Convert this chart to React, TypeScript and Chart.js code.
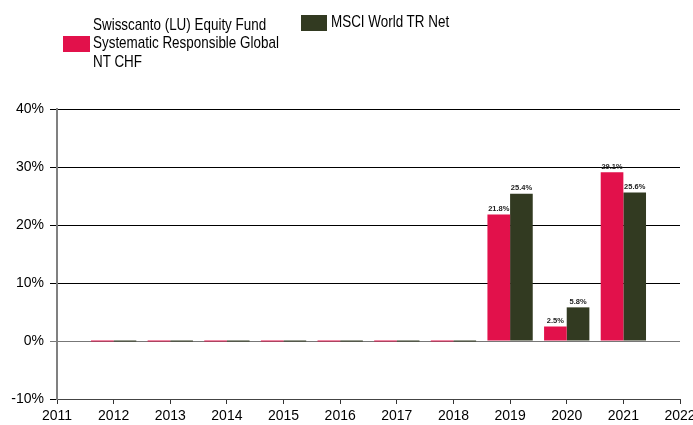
import React, { useEffect, useRef } from "react";
import { Chart, registerables } from "chart.js";

Chart.register(...registerables);

const years = ["2011", "2012", "2013", "2014", "2015", "2016", "2017", "2018", "2019", "2020", "2021", "2022"];
const fundValues = [null, 0, 0, 0, 0, 0, 0, 0, 21.8, 2.5, 29.1, null];
const benchValues = [null, 0, 0, 0, 0, 0, 0, 0, 25.4, 5.8, 25.6, null];
const fundLabel = ["Swisscanto (LU) Equity Fund", "Systematic Responsible Global", "NT CHF"];
const benchLabel = "MSCI World TR Net";
const yTicks = [-10, 0, 10, 20, 30, 40];

const PINK = "#E2114B";
const DARK = "#323A21";

const valueLabels = {
  id: "valueLabels",
  afterDatasetsDraw(chart: any) {
    const ctx = chart.ctx;
    ctx.save();
    ctx.font = "bold 7.5px 'Liberation Sans', Arial, sans-serif";
    ctx.fillStyle = "#222";
    ctx.textAlign = "center";
    ctx.textBaseline = "bottom";
    chart.data.datasets.forEach((ds: any, i: number) => {
      const meta = chart.getDatasetMeta(i);
      meta.data.forEach((bar: any, j: number) => {
        const v = ds.data[j];
        if (v === null || v === 0) return;
        ctx.fillText(v.toFixed(1) + "%", bar.x, bar.y - 2);
      });
    });
    ctx.restore();
  },
};

export default function App() {
  const ref = useRef<HTMLCanvasElement>(null);
  useEffect(() => {
    if (!ref.current) return;
    const chart = new Chart(ref.current, {
      type: "bar",
      data: {
        labels: years,
        datasets: [
          { label: fundLabel.join(" "), data: fundValues as any, backgroundColor: PINK, minBarLength: 1 },
          { label: benchLabel, data: benchValues as any, backgroundColor: DARK, minBarLength: 1 },
        ],
      },
      options: {
        responsive: false,
        animation: false,
        layout: { padding: { top: 109, right: 13, left: 0, bottom: 0 } },
        datasets: { bar: { categoryPercentage: 0.8, barPercentage: 1.0 } },
        plugins: { legend: { display: false }, tooltip: { enabled: false } },
        scales: {
          x: {
            offset: false,
            grid: { display: true, offset: false, drawOnChartArea: false, drawTicks: true, tickLength: 5, color: "#333" },
            border: { display: true, color: "#444", width: 1 },
            ticks: { color: "#000", font: { family: "'Liberation Sans', Arial, sans-serif", size: 14 }, padding: 4, maxRotation: 0, autoSkip: false },
            afterFit: (s: any) => { s.height = 26; s.paddingLeft = 0; s.paddingRight = 0; },
          },
          y: {
            min: -10,
            max: 40,
            afterBuildTicks: (s: any) => { s.ticks = yTicks.map((v) => ({ value: v })); },
            grid: {
              color: (c: any) => (c.tick && c.tick.value === 0 ? "#777" : "#000"),
              tickLength: 7,
              lineWidth: 1,
            },
            border: { display: true, color: "#808080", width: 2 },
            ticks: {
              color: "#000",
              font: { family: "'Liberation Sans', Arial, sans-serif", size: 14 },
              padding: 6,
              callback: (v: any) => v + "%",
            },
            afterFit: (s: any) => { s.width = 57; s.paddingTop = 0; s.paddingBottom = 0; },
          },
        },
      },
      plugins: [valueLabels],
    });
    return () => chart.destroy();
  }, []);

  const legendText: React.CSSProperties = {
    position: "absolute",
    fontFamily: "'Liberation Sans', Arial, sans-serif",
    fontSize: 17,
    lineHeight: "18.5px",
    color: "#000",
    transform: "scaleX(0.79)",
    transformOrigin: "left top",
    whiteSpace: "nowrap",
  };

  return (
    <div style={{ position: "fixed", left: 0, top: 0, width: 693, height: 425, background: "#fff" }}>
      <canvas ref={ref} width={693} height={425} style={{ position: "absolute", left: 0, top: 0 }} />
      <div style={{ position: "absolute", left: 63, top: 36, width: 27, height: 16, background: PINK }} />
      <div style={{ ...legendText, left: 93, top: 15.5 }}>
        {fundLabel.map((l) => (
          <div key={l}>{l}</div>
        ))}
      </div>
      <div style={{ position: "absolute", left: 301, top: 15, width: 26, height: 16, background: DARK }} />
      <div style={{ ...legendText, left: 331, top: 12.5 }}>{benchLabel}</div>
    </div>
  );
}
